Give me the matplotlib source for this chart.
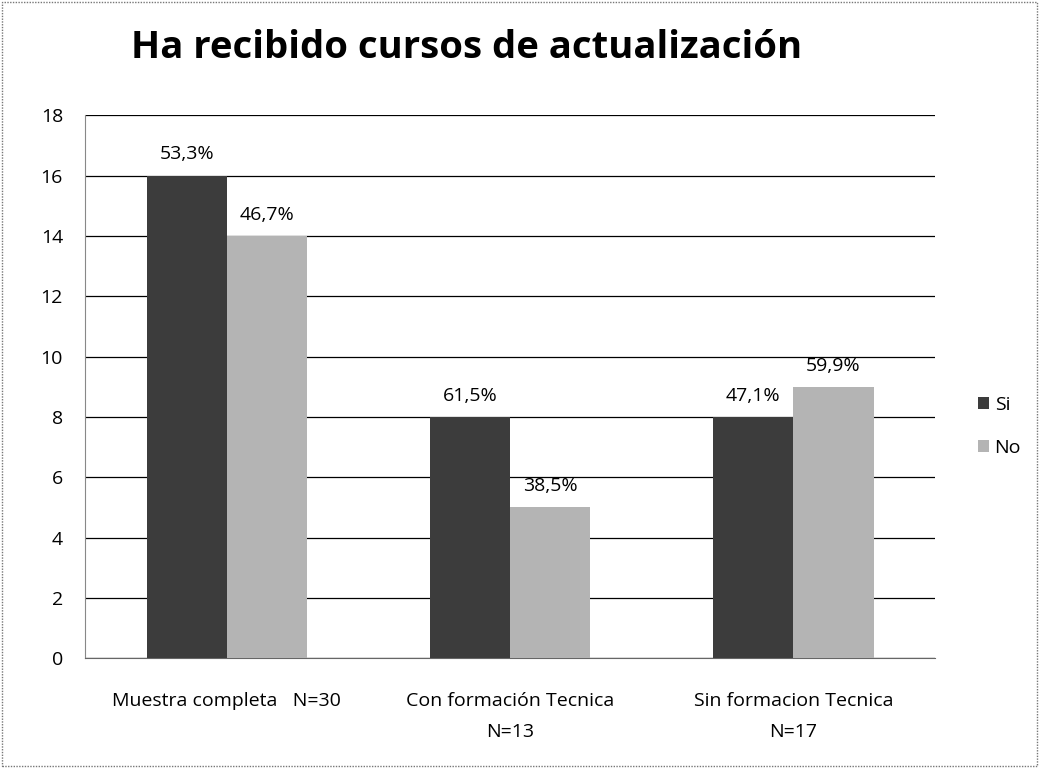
import numpy as np
import matplotlib.pyplot as plt
from matplotlib.patches import Rectangle

categories = ['Muestra completa   N=30', 'Con formación Tecnica\nN=13', 'Sin formacion Tecnica\nN=17']
si_vals = [16, 8, 8]
no_vals = [14, 5, 9]
si_labels = ['53,3%', '61,5%', '47,1%']
no_labels = ['46,7%', '38,5%', '59,9%']

plt.rcParams['font.family'] = ['Open Sans', 'DejaVu Sans']

fig = plt.figure(figsize=(10.39, 7.68), dpi=100)
ax = fig.add_axes([0.082, 0.143, 0.818, 0.707])

x = np.arange(len(categories))
w = 0.283
b1 = ax.bar(x - w/2, si_vals, w, color='#3c3c3c', label='Si', zorder=3)
b2 = ax.bar(x + w/2, no_vals, w, color='#b4b4b4', label='No', zorder=3)

for rect, lab in zip(b1, si_labels):
    ax.text(rect.get_x() + rect.get_width()/2, rect.get_height() + 0.4, lab,
            ha='center', va='bottom', fontsize=14)
for rect, lab in zip(b2, no_labels):
    ax.text(rect.get_x() + rect.get_width()/2, rect.get_height() + 0.4, lab,
            ha='center', va='bottom', fontsize=14)

ax.set_xlim(-0.5, 2.5)
ax.set_ylim(0, 18)
ax.set_yticks(range(0, 19, 2))
ax.yaxis.grid(True, color='black', linewidth=0.9, zorder=0)
ax.set_xticks(x)
ax.set_xticklabels(categories, fontsize=14, linespacing=1.95)
ax.tick_params(axis='x', length=0, pad=24)
ax.tick_params(axis='y', length=0, labelsize=14, pad=16)
for s in ['top', 'right']:
    ax.spines[s].set_visible(False)
ax.spines['left'].set_color('#888888')
ax.spines['left'].set_linewidth(0.8)
ax.spines['bottom'].set_color('#666666')
ax.spines['bottom'].set_linestyle((0, (1, 1)))

fig.text(0.449, 0.938, 'Ha recibido cursos de actualización', ha='center', va='center',
         fontsize=27.5, fontweight='bold')

ax.legend(loc='center left', bbox_to_anchor=(1.03, 0.427), frameon=False, fontsize=14,
          handlelength=0.55, handleheight=0.55, handletextpad=0.3, labelspacing=1.3)

fig.patches.append(Rectangle((0.002, 0.002), 0.996, 0.996, transform=fig.transFigure,
                             fill=False, edgecolor='#777777', linewidth=1, linestyle=(0, (1, 1))))

fig.savefig('out.png', dpi=100)
